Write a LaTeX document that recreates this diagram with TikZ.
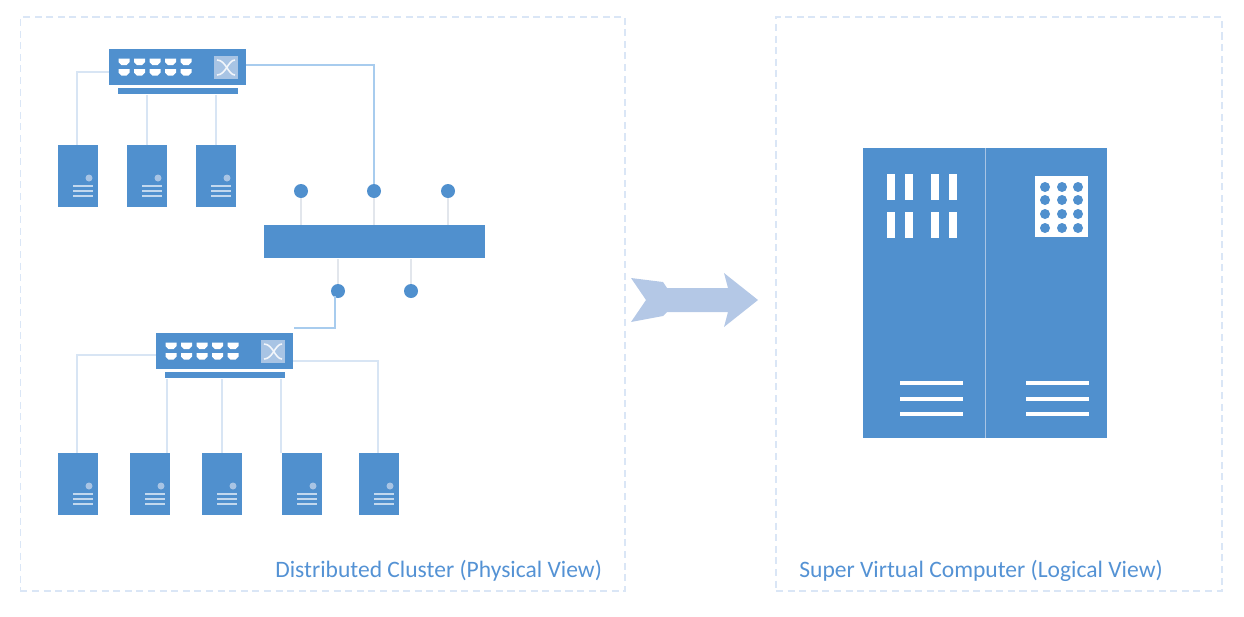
\documentclass[tikz,border=0pt]{standalone}
\usepackage{fontspec}
\setmainfont{Carlito}
\usepackage{xcolor}
\usetikzlibrary{positioning,calc}
\definecolor{hostblue}{RGB}{80,144,206}
\definecolor{wirepale}{RGB}{216,229,244}
\definecolor{wireblue}{RGB}{168,204,238}
\definecolor{wiregray}{RGB}{226,230,236}
\definecolor{panelline}{RGB}{218,230,246}
\definecolor{arrowfill}{RGB}{180,200,230}
\definecolor{iconfill}{RGB}{168,196,228}
\definecolor{captionblue}{RGB}{84,146,212}

\begin{document}
\begin{tikzpicture}
	[x=0.02cm,y=-0.02cm,
	panel/.style={draw=panelline,line width=1.1pt,dash pattern=on 4pt off 2.6pt},
	host/.style={rectangle,fill=hostblue,inner sep=0pt,anchor=north west},
	hub/.style={circle,fill=hostblue,inner sep=0pt,minimum size=0.28cm},
	wire/.style={line width=1pt,draw=wirepale},
	uplink/.style={line width=0.8pt,draw=wireblue},
	stub/.style={line width=1.1pt,draw=wiregray},
	slot/.style={fill=white},
	caption/.style={inner sep=0pt,anchor=base west,text=captionblue,font=\fontsize{13.4}{16}\selectfont}]
	\useasboundingbox (0,0) rectangle (1244,616);
	%PANELS
	\node[minimum width=12.1cm,minimum height=11.48cm,panel,rectangle,inner sep=0pt,anchor=north west] (physical) at (19.5,16) {};
	\node[minimum width=8.92cm,minimum height=11.48cm,panel,rectangle,inner sep=0pt,anchor=north west] (logical) at (775,16) {};
	\node[caption] (physicallabel) at (275,577) {Distributed Cluster (Physical View)};
	\node[caption] (logicallabel) at (799,577) {Super Virtual Computer (Logical View)};
	%SWITCHES
	\foreach \n/\x/\y in {sa/109/49,sb/156/333}
	{
		\node[host,minimum width=2.74cm,minimum height=0.72cm] (\n) at (\x,\y) {};
		\node[host,minimum width=2.4cm,minimum height=0.12cm] (\n base) at (\x+9,\y+39) {};
		\node[host,fill=iconfill,minimum width=0.48cm,minimum height=0.46cm] (\n icon) at (\x+105,\y+7) {};
		\draw[white!85!iconfill,line width=0.9pt] (\x+108,\y+11) .. controls (\x+117,\y+11) and (\x+119,\y+26) .. (\x+126,\y+26)
			(\x+108,\y+26) .. controls (\x+117,\y+26) and (\x+119,\y+11) .. (\x+126,\y+11);
		\foreach \p in {0,...,4}
		\foreach \q in {0,1}
		\fill[slot] (\x+15.5*\p+9.5,\y+9.5+10.5*\q) -- ++(11,0) -- ++(0,3.5) -- ++(-3,3) -- ++(-5,0) -- ++(-3,-3) -- cycle;
	};
	%SERVERS
	\foreach \n/\x/\y in {ha/58/145,hb/127/145,hc/196/145,hd/58/453,he/130/453,hf/202/453,hg/282/453,hh/359/453}
	{
		\node[host,minimum width=0.8cm,minimum height=1.24cm] (\n) at (\x,\y) {};
		\node[circle,fill=iconfill,inner sep=0pt,minimum size=0.14cm] (\n led) at (\x+31,\y+33) {};
		\foreach \l in {41,46,51}
		\draw[white!65!hostblue,line width=1pt] (\x+15,\y+\l) -- (\x+35,\y+\l);
	};
	%BACKPLANE
	\node[host,minimum width=4.42cm,minimum height=0.66cm] (bar) at (264,225) {};
	\foreach \n/\x/\y in {pa/301/191,pb/374/191,pc/448/191,pd/338/291,pe/411/291}
	\node[hub] (\n) at (\x,\y) {};
	\foreach \n in {pa,pb,pc}
	\draw[stub] (\n) -- (\n |- bar.north);
	\foreach \n in {pd,pe}
	\draw[stub] (\n) -- (\n |- bar.south);
	%LINKS
	\coordinate (ja) at (109,72);
	\coordinate (jb) at (246,65);
	\coordinate (jc) at (156,355);
	\coordinate (jd) at (293,361);
	\coordinate (je) at (294,328);
	\coordinate (jf) at (335,296);
	\draw[wire] (ja) -| (ha.north -| 77,0);
	\draw[wire] (jc) -| (hd.north -| 77,0);
	\draw[wire] (jd) -| (hh.north -| 378,0);
	\foreach \n in {hb,hc}
	\draw[wire] (\n) ++(0,-31) -- (\n |- sabase.south);
	\foreach \n/\x in {he/167,hf/222,hg/281}
	\draw[wire] (\n.north -| \x,0) -- (sbbase.south -| \x,0);
	\draw[uplink] (jb) -| (pb);
	\draw[uplink] (je) -| (jf);
	%ARROW
	\fill[arrowfill] (631,278) -- (663,282) -- (667,288) -- (728,288) -- (724,273) -- (758,300) -- (724,327) -- (728,312) -- (667,312) -- (663,316) -- (631,322) -- (646,300) -- cycle;
	%CABINET
	\node[host,minimum width=4.88cm,minimum height=5.8cm] (cabinet) at (863,148) {};
	\draw[iconfill,line width=0.5pt] (985,148) -- (985,438);
	\foreach \x in {887,905,931,949}
	\foreach \y in {174,212}
	\fill[white] (\x,\y) rectangle ++(8,26);
	\node[host,fill=white,minimum width=1.06cm,minimum height=1.22cm] (screen) at (1035,176) {};
	\foreach \x in {1045,1062,1078}
	\foreach \y in {187,200,214,228}
	\fill[hostblue] (\x,\y) circle (5);
	\foreach \y in {383,399,414}
	{
		\fill[white] (900,\y-2.3) rectangle (963,\y+2.3);
		\fill[white] (1026,\y-2.3) rectangle (1089,\y+2.3);
	};
\end{tikzpicture}
\end{document}
